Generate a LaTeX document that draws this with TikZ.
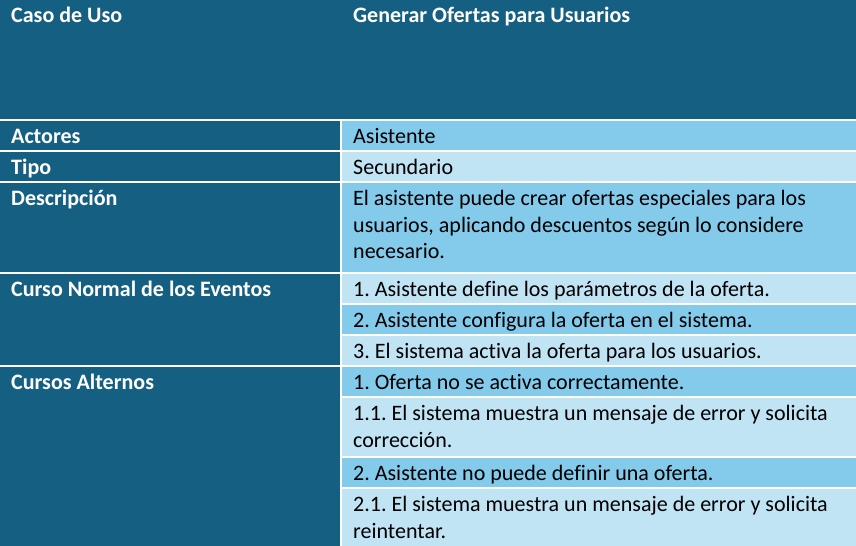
\documentclass[tikz,border=0pt]{standalone}
\usepackage{fontspec}
\setmainfont{Carlito}[Ligatures=NoCommon]
\definecolor{casehead}{HTML}{156082}
\definecolor{casemid}{HTML}{83CAEB}
\definecolor{caselight}{HTML}{C1E4F5}
\frenchspacing

\begin{document}
\begin{tikzpicture}[x=1bp,y=-1bp,
  rowlabel/.style={anchor=base west,inner sep=0pt,text=white,align=left,yshift=-1.5bp,
    font=\fontsize{22.1}{26.6}\selectfont\bfseries},
  rowtext/.style={anchor=base west,inner sep=0pt,text=black,align=left,yshift=-1.5bp,
    font=\fontsize{22.1}{26.6}\selectfont},
  gridline/.style={white,line width=1.5bp}]
  \useasboundingbox (0,0) rectangle (856,546);
  % backgrounds
  \fill[casehead] (0,0) rectangle (856,120);
  \fill[casehead] (0,120) rectangle (341,546);
  \foreach \ya/\yb/\col in {120/151/casemid,151/182/caselight,182/273/casemid,
      273/304/caselight,304/335/casemid,335/366/caselight,366/397/casemid,
      397/457/caselight,457/488/casemid,488/546/caselight}
    \fill[\col] (341,\ya) rectangle (856,\yb);
  % white rules
  \foreach \y in {120,151,182,273,366}
    \draw[gridline] (0,\y) -- (856,\y);
  \foreach \y in {304,335,397,457,488}
    \draw[gridline] (341,\y) -- (856,\y);
  \draw[gridline] (341,120) -- (341,546);
  % header
  \node[rowlabel] (caso) at (11,21) {Caso de Uso};
  \node[rowlabel] (nombre) at (353,21) {Generar Ofertas para Usuarios};
  % left column
  \node[rowlabel] (actores) at (11,142) {Actores};
  \node[rowlabel] (tipo) at (11,173) {Tipo};
  \node[rowlabel] (descripcion) at (11,204) {Descripción};
  \node[rowlabel] (normal) at (11,295) {Curso Normal de los Eventos};
  \node[rowlabel] (alternos) at (11,388) {Cursos Alternos};
  % right column (base = last line)
  \node[rowtext] (asistente) at (353,142) {Asistente};
  \node[rowtext] (secundario) at (353,173) {Secundario};
  \node[rowtext] (texto) at (353,257.2) {El asistente puede crear ofertas especiales para los\\
    usuarios, aplicando descuentos según lo considere\\necesario.};
  \node[rowtext] (paso1) at (353,295) {1. Asistente define los parámetros de la oferta.};
  \node[rowtext] (paso2) at (353,326) {2. Asistente configura la oferta en el sistema.};
  \node[rowtext] (paso3) at (353,357) {3. El sistema activa la oferta para los usuarios.};
  \node[rowtext] (alt1) at (353,388) {1. Oferta no se activa correctamente.};
  \node[rowtext] (alt11) at (353,445.6) {1.1. El sistema muestra un mensaje de error y solicita\\corrección.};
  \node[rowtext] (alt2) at (353,479) {2. Asistente no puede definir una oferta.};
  \node[rowtext] (alt21) at (353,536.6) {2.1. El sistema muestra un mensaje de error y solicita\\reintentar.};
\end{tikzpicture}
\end{document}
